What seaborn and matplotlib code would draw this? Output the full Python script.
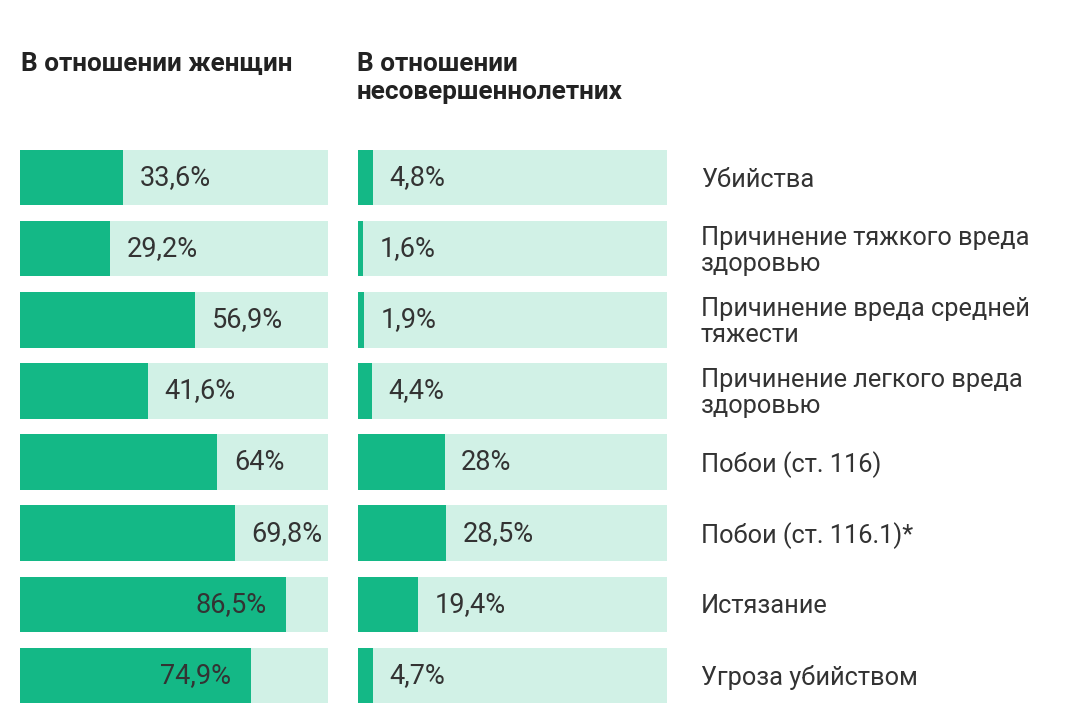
import matplotlib
matplotlib.use("Agg")
import matplotlib.pyplot as plt
import seaborn as sns
import pandas as pd

categories = [
    "Убийства",
    "Причинение тяжкого вреда\nздоровью",
    "Причинение вреда средней\nтяжести",
    "Причинение легкого вреда\nздоровью",
    "Побои (ст. 116)",
    "Побои (ст. 116.1)*",
    "Истязание",
    "Угроза убийством",
]
women = [33.6, 29.2, 56.9, 41.6, 64.0, 69.8, 86.5, 74.9]
women_labels = ["33,6%", "29,2%", "56,9%", "41,6%", "64%", "69,8%", "86,5%", "74,9%"]
minors = [4.8, 1.6, 1.9, 4.4, 28.0, 28.5, 19.4, 4.7]
minors_labels = ["4,8%", "1,6%", "1,9%", "4,4%", "28%", "28,5%", "19,4%", "4,7%"]
titles = ["В отношении женщин", "В отношении\nнесовершеннолетних"]
full = [100] * len(categories)

DARK = "#14b886"
LIGHT = "#d1f1e6"
TEXT = "#333333"

sns.set_theme(style="white")
plt.rcParams["font.family"] = ["Roboto", "DejaVu Sans"]

fig = plt.figure(figsize=(10.8, 7.28), dpi=100)
W, H = 1080, 728
ax_bottom = 1 - 711 / H
ax_height = 569 / H
axes = [
    fig.add_axes([20 / W, ax_bottom, 308 / W, ax_height]),
    fig.add_axes([358 / W, ax_bottom, 309 / W, ax_height]),
]

for ax, vals, labs in zip(axes, [women, minors], [women_labels, minors_labels]):
    df = pd.DataFrame({"cat": categories, "full": full, "val": vals})
    sns.barplot(data=df, x="full", y="cat", orient="h", color=LIGHT,
                width=0.78, ax=ax, saturation=1, linewidth=0)
    sns.barplot(data=df, x="val", y="cat", orient="h", color=DARK,
                width=0.78, ax=ax, saturation=1, linewidth=0)
    ax.set_xlim(0, 100)
    ax.set_ylim(len(categories) - 0.5, -0.5)
    ax.axis("off")
    for i, (v, lab) in enumerate(zip(vals, labs)):
        # estimated label width in data units (~14.5 px per char)
        est_w = len(lab) * 14.5 * 100 / 308
        if v + 5.5 + est_w > 100:
            ax.annotate(lab, (v, i), xytext=(-14.5, 0), textcoords="offset points",
                        ha="right", va="center", fontsize=19.5, color=TEXT)
        else:
            ax.annotate(lab, (v, i), xytext=(12, 0), textcoords="offset points",
                        ha="left", va="center", fontsize=19.5, color=TEXT)
    if ax is axes[1]:
        for i, c in enumerate(categories):
            ax.annotate(c, (100, i), xytext=(24.5, -1.5), textcoords="offset points",
                        ha="left", va="center", fontsize=18.3, color=TEXT,
                        linespacing=1.12, annotation_clip=False)

fig.text(21 / W, 1 - 52 / H, titles[0], ha="left", va="top", fontsize=18.8,
         fontweight="bold", color="#222222")
fig.text(357 / W, 1 - 52 / H, titles[1], ha="left", va="top", fontsize=18.8,
         fontweight="bold", color="#222222", linespacing=1.22)

fig.savefig("out.png", dpi=100, facecolor="white")
